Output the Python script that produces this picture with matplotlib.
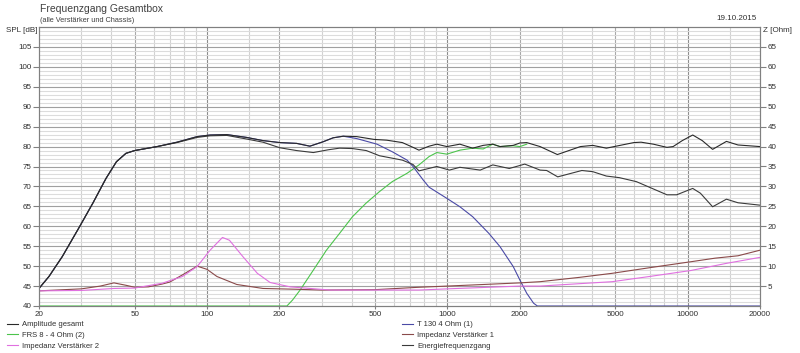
import matplotlib
matplotlib.use("Agg")
import matplotlib.pyplot as plt
import numpy as np
from matplotlib.lines import Line2D

plt.rcParams['font.family'] = ['Liberation Sans', 'DejaVu Sans']

# ---------------- data ----------------
f_amp = [20, 22, 25, 29.5, 33.5, 38, 42, 46, 50, 62, 75, 91, 103, 121, 146, 171, 201, 236, 268,
         304, 335, 369, 420, 495, 560, 650, 720, 762, 840, 904, 996, 1128, 1275, 1410, 1546, 1656,
         1880, 2005, 2140, 2432, 2870, 3580, 4030, 4590, 5970, 6400, 7200, 8200, 8700, 9500,
         10500, 11500, 12700, 14500, 16200, 20000]
spl_amp = [44.4, 47.4, 52.4, 59.9, 65.8, 72.0, 76.2, 78.3, 79.0, 80.0, 81.1, 82.5, 82.9, 83.0, 82.3,
           81.5, 81.0, 80.8, 80.1, 81.2, 82.2, 82.6, 82.5, 81.8, 81.6, 81.0, 79.8, 79.1, 80.1, 80.6,
           80.0, 80.6, 79.6, 80.3, 80.6, 80.0, 80.3, 80.9, 81.0, 80.0, 78.0, 80.0, 80.3, 79.6, 81.0,
           81.1, 80.6, 79.8, 80.0, 81.5, 82.9, 81.5, 79.3, 81.3, 80.4, 80.0]

f_energy = [20, 22, 25, 29.5, 33.5, 38, 42, 46, 50, 62, 75, 91, 103, 121, 146, 171, 201, 236, 277,
            320, 356, 403, 460, 522, 650, 720, 762, 904, 1020, 1128, 1370, 1546, 1810, 2100, 2432,
            2590, 2880, 3280, 3630, 4030, 4590, 5200, 6120, 6930, 8200, 9000, 10500, 11300, 12700,
            14500, 16200, 20000]
spl_energy = [44.4, 47.4, 52.4, 59.9, 65.8, 72.0, 76.2, 78.3, 79.0, 80.0, 81.0, 82.3, 82.7, 82.8,
              81.9, 81.1, 79.7, 79.0, 78.5, 79.2, 79.6, 79.5, 79.0, 77.7, 76.6, 75.5, 73.9, 75.0,
              74.1, 74.8, 74.1, 75.4, 74.5, 75.6, 74.1, 74.0, 72.4, 73.3, 74.0, 73.7, 72.6, 72.2,
              71.2, 69.8, 67.9, 67.9, 69.5, 68.3, 64.9, 66.8, 65.9, 65.3]

f_t130 = [20, 22, 25, 29.5, 33.5, 38, 42, 46, 50, 62, 75, 91, 103, 121, 146, 171, 201, 236, 268,
          304, 335, 369, 420, 510, 590, 680, 720, 794, 840, 996, 1128, 1275, 1490, 1656, 1880,
          2005, 2140, 2285, 2370, 5000, 20000]
spl_t130 = [44.4, 47.4, 52.4, 59.9, 65.8, 72.0, 76.2, 78.3, 79.0, 80.0, 81.1, 82.5, 82.9, 83.0,
            82.3, 81.5, 81.0, 80.8, 80.1, 81.2, 82.2, 82.6, 82.0, 80.6, 78.7, 76.6, 75.0, 71.6,
            69.8, 67.0, 64.9, 62.4, 58.2, 54.9, 49.9, 46.5, 43.2, 40.7, 40.0, 40.0, 40.0]

f_frs8 = [20, 215, 227, 244, 277, 314, 356, 403, 459, 522, 590, 680, 762, 840, 904, 996, 1128,
          1275, 1410, 1546, 1656, 1880, 2005, 2140]
spl_frs8 = [40.0, 40.0, 41.5, 44.0, 49.0, 54.0, 58.2, 62.4, 65.8, 68.7, 71.2, 73.3, 75.4, 77.5,
            78.5, 78.1, 79.1, 79.6, 79.4, 80.6, 80.0, 80.2, 80.0, 80.6]

f_imp1 = [20, 30, 36, 41, 46, 50, 57, 65, 70, 79, 91, 100, 110, 133, 171, 236, 300, 500, 762,
          1000, 2005, 2432, 3565, 4850, 6930, 10300, 13000, 16200, 20000]
z_imp1 = [3.8, 4.3, 5.0, 5.8, 5.2, 4.7, 4.8, 5.5, 6.0, 7.8, 10.0, 9.2, 7.4, 5.4, 4.4, 4.2, 4.0,
          4.1, 4.7, 5.0, 5.8, 6.1, 7.2, 8.2, 9.6, 11.1, 12.0, 12.6, 14.0]

f_imp2 = [20, 30, 41, 50, 65, 79, 91, 103, 116, 124, 141, 162, 183, 222, 244, 326, 500, 762,
          1000, 2005, 2432, 4850, 6930, 10300, 14500, 20000]
z_imp2 = [3.8, 3.9, 4.4, 4.5, 5.7, 7.4, 9.9, 14.0, 17.2, 16.5, 12.4, 8.2, 5.9, 4.8, 4.6, 4.0,
          4.0, 4.0, 4.3, 5.0, 5.0, 6.1, 7.4, 8.9, 10.7, 12.2]

x_ticks = [20, 50, 100, 200, 500, 1000, 2000, 5000, 10000, 20000]
spl_ticks = list(range(40, 110, 5))
z_ticks = list(range(5, 70, 5))

# ---------------- figure ----------------
W, H = 800, 353
fig = plt.figure(figsize=(W / 100, H / 100), dpi=100)
L, R, T, B = 39, 760, 27, 306
ax = fig.add_axes([L / W, 1 - B / H, (R - L) / W, (B - T) / H])
ax.set_xscale('log')
ax.set_xlim(20, 20000)
ax.set_ylim(40, 110)

# grid
for dec in [10, 100, 1000, 10000]:
    for m in [1, 1.5, 2, 3, 4, 5, 6, 7, 8, 9]:
        v = dec * m
        if v <= 20 or v >= 20000:
            continue
        if v in (100, 1000, 10000):
            c = '#8c8c8c'
        elif v in x_ticks:
            c = '#a8a8a8'
        else:
            c = '#d2d2d2'
        ax.axvline(v, color=c, lw=0.8, zorder=1)
for v in range(41, 110):
    c = '#a0a0a0' if v % 5 == 0 else '#dcdcdc'
    ax.axhline(v, color=c, lw=0.8, zorder=1 if v % 5 else 1.1)

tc = '#303030'
ax.plot(f_frs8, spl_frs8, color='#4cc44c', lw=0.8, zorder=3)
ax.plot(f_t130, spl_t130, color='#4a4aa6', lw=0.8, zorder=3)
ax.plot(f_energy, spl_energy, color='#3a3a3a', lw=0.8, zorder=4)
ax.plot(f_amp, spl_amp, color='#2a2a2a', lw=0.8, zorder=5)

ax.set_xticks(x_ticks)
ax.set_xticklabels([str(v) for v in x_ticks])
ax.xaxis.set_minor_locator(matplotlib.ticker.NullLocator())
ax.set_yticks(spl_ticks)
ax.tick_params(axis='both', labelsize=5.8, colors='#808080', labelcolor=tc, length=4, width=0.8,
               direction='out', pad=1.5)
ax.tick_params(axis='x', length=2)
for s in ax.spines.values():
    s.set_color('#808080')
    s.set_linewidth(0.8)

ax2 = ax.twinx()
ax2.set_ylim(0, 70)
ax2.set_yticks(z_ticks)
ax2.tick_params(axis='y', labelsize=5.8, colors='#808080', labelcolor=tc, length=4, width=0.8,
                direction='out', pad=1.5)
for s in ax2.spines.values():
    s.set_color('#808080')
    s.set_linewidth(0.8)
ax2.plot(f_imp1, z_imp1, color='#8a4a4a', lw=0.8)
ax2.plot(f_imp2, z_imp2, color='#e070e0', lw=0.8)

# texts
fig.text(40 / W, 1 - 9 / H, 'Frequenzgang Gesamtbox', fontsize=7.5, color='#404040', va='center')
fig.text(40 / W, 1 - 20 / H, '(alle Verstärker und Chassis)', fontsize=5.3, color='#404040', va='center')
fig.text(757 / W, 1 - 18 / H, '19.10.2015', fontsize=5.8, color=tc, va='center', ha='right')
fig.text(37 / W, 1 - 30 / H, 'SPL [dB]', fontsize=5.8, color=tc, va='center', ha='right')
fig.text(763 / W, 1 - 30 / H, 'Z [Ohm]', fontsize=5.8, color=tc, va='center', ha='left')

# legends
def mk(c):
    return Line2D([], [], color=c, lw=0.8)

left_h = [mk('#2a2a2a'), mk('#4cc44c'), mk('#e070e0')]
left_l = ['Amplitude gesamt', 'FRS 8 - 4 Ohm (2)', 'Impedanz Verstärker 2']
right_h = [mk('#4a4aa6'), mk('#8a4a4a'), mk('#3a3a3a')]
right_l = ['T 130 4 Ohm (1)', 'Impedanz Verstärker 1', 'Energiefrequenzgang']
for hs, ls, x0 in [(left_h, left_l, 7), (right_h, right_l, 402)]:
    lg = fig.legend(hs, ls, loc='upper left', bbox_to_anchor=(x0 / W, 1 - 321 / H),
                    frameon=False, fontsize=5.5, handlelength=1.5, handletextpad=0.5,
                    labelspacing=0.45, borderpad=0, borderaxespad=0)
    for t in lg.get_texts():
        t.set_color(tc)

fig.savefig('out.png', dpi=100)
